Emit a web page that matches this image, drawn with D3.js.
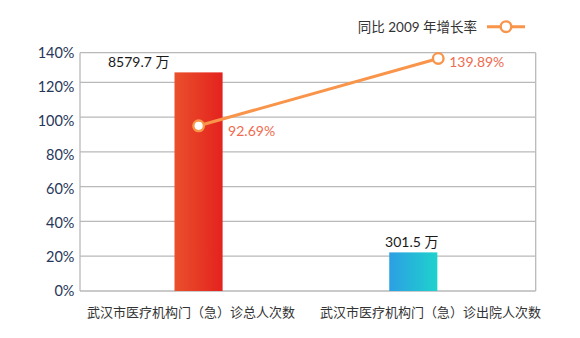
<!DOCTYPE html>
<html>
<head>
<meta charset="utf-8">
<script src="https://cdn.jsdelivr.net/npm/d3@7"></script>
<style>
  html, body { margin: 0; padding: 0; background: #fff; }
  svg { display: block; }
  text { font-family: "Lato", "Noto Sans CJK SC", sans-serif; }
</style>
</head>
<body>
<svg id="chart" width="580" height="338"></svg>
<script>
// ---- data ----
const categories = ["武汉市医疗机构门（急）诊总人次数", "武汉市医疗机构门（急）诊出院人次数"];
const barLabels = ["8579.7 万", "301.5 万"];
const barHeights = [125.7, 22.2];          // bar heights as drawn, in axis % units
const growthLabels = ["92.69%", "139.89%"];
const growthPlotted = [95.0, 133.7];       // marker positions as drawn, in axis % units
const gridValues = [0, 20, 40, 60, 80, 100, 120];
const tickValues = [0, 20, 40, 60, 80, 100, 120, 140];
const legendLabel = "同比 2009 年增长率";

// ---- layout ----
const plotLeft = 80, plotRight = 535.7, plotTop = 52.7, plotBottom = 291;
const svg = d3.select("#chart");

const y = d3.scaleLinear().domain([0, 120]).range([plotBottom, 82.3]);
const yTickLabel = d3.scaleLinear().domain([0, 140]).range([290.5, 52]);
const x = d3.scaleBand().domain(categories).range([plotLeft, plotRight])
  .paddingInner(0.776).paddingOuter(0.449).align(0.49);
const xLine = d3.scalePoint().domain(categories).range([plotLeft, plotRight])
  .padding(0.451).align(0.549);
const xCat = d3.scalePoint().domain(categories).range([87, 541]);

// gradients
const defs = svg.append("defs");
const grads = [["g0", "#EA502C", "#E4221E"], ["g1", "#2C9FE3", "#1ED2CD"]];
grads.forEach(([id, c0, c1]) => {
  const g = defs.append("linearGradient").attr("id", id)
    .attr("x1", "0%").attr("x2", "100%").attr("y1", "0%").attr("y2", "0%");
  g.append("stop").attr("offset", "0%").attr("stop-color", c0);
  g.append("stop").attr("offset", "100%").attr("stop-color", c1);
});

// grid
const gridColor = "#b9b9b9";
svg.append("g").selectAll("line").data(gridValues).join("line")
  .attr("x1", plotLeft).attr("x2", plotRight)
  .attr("y1", d => y(d)).attr("y2", d => y(d))
  .attr("stroke", gridColor).attr("stroke-width", 1.3);
svg.append("line").attr("x1", plotLeft).attr("x2", plotRight).attr("y1", plotTop).attr("y2", plotTop)
  .attr("stroke", gridColor).attr("stroke-width", 1.3);
svg.append("line").attr("x1", plotLeft).attr("x2", plotLeft).attr("y1", plotTop).attr("y2", plotBottom)
  .attr("stroke", gridColor).attr("stroke-width", 1.3);
svg.append("line").attr("x1", plotRight).attr("x2", plotRight).attr("y1", plotTop).attr("y2", plotBottom)
  .attr("stroke", gridColor).attr("stroke-width", 1.3);

// y tick labels
svg.append("g").selectAll("text").data(tickValues).join("text")
  .attr("x", 74.5).attr("y", d => yTickLabel(d))
  .attr("text-anchor", "end").attr("dominant-baseline", "central")
  .attr("font-size", 14.5).attr("fill", "#26375a")
  .text(d => d + "%");

// bars
svg.append("g").selectAll("rect").data(categories).join("rect")
  .attr("x", d => x(d)).attr("width", x.bandwidth())
  .attr("y", (d, i) => y(barHeights[i]))
  .attr("height", (d, i) => y(0) - y(barHeights[i]))
  .attr("fill", (d, i) => `url(#g${i})`);

// bar value labels
svg.append("g").selectAll("text").data(categories).join("text")
  .attr("x", (d, i) => i === 0 ? x(d) - 5 : x(d) + x.bandwidth() / 2 - 1.5)
  .attr("y", (d, i) => y(barHeights[i]) - 10.5)
  .attr("text-anchor", (d, i) => i === 0 ? "end" : "middle")
  .attr("dominant-baseline", "central")
  .attr("font-size", 14).attr("fill", "#1a1a1a")
  .text((d, i) => barLabels[i]);

// category labels
svg.append("g").selectAll("text").data(categories).join("text")
  .attr("x", d => xCat(d)).attr("y", 311.5)
  .attr("text-anchor", (d, i) => i === 0 ? "start" : "end")
  .attr("dominant-baseline", "central")
  .attr("font-size", 13).attr("fill", "#333")
  .text(d => d);

// growth line
const lineColor = "#F8954A";
const line = d3.line().x(d => xLine(d)).y((d, i) => y(growthPlotted[i]));
svg.append("path").datum(categories).attr("d", line)
  .attr("fill", "none").attr("stroke", lineColor).attr("stroke-width", 3);
svg.append("g").selectAll("circle").data(categories).join("circle")
  .attr("cx", d => xLine(d)).attr("cy", (d, i) => y(growthPlotted[i]))
  .attr("r", 5.3).attr("fill", "#fff")
  .attr("stroke", lineColor).attr("stroke-width", 2.4);
svg.append("g").selectAll("text").data(categories).join("text")
  .attr("x", d => Math.max(xLine(d) + 11, x(d) + x.bandwidth() + 5.5))
  .attr("y", (d, i) => y(growthPlotted[i]) + (i === 0 ? 4.3 : 3.4))
  .attr("dominant-baseline", "central")
  .attr("font-size", 14).attr("fill", "#EF6B4F")
  .text((d, i) => growthLabels[i]);

// legend
const lg = svg.append("g");
lg.append("text").attr("x", 477).attr("y", 26.7)
  .attr("text-anchor", "end").attr("dominant-baseline", "central")
  .attr("font-size", 13.5).attr("fill", "#333").text(legendLabel);
lg.append("line").attr("x1", 487).attr("x2", 525).attr("y1", 26.7).attr("y2", 26.7)
  .attr("stroke", lineColor).attr("stroke-width", 3);
lg.append("circle").attr("cx", 506).attr("cy", 26.7).attr("r", 5.3)
  .attr("fill", "#fff").attr("stroke", lineColor).attr("stroke-width", 2.4);
</script>
</body>
</html>
